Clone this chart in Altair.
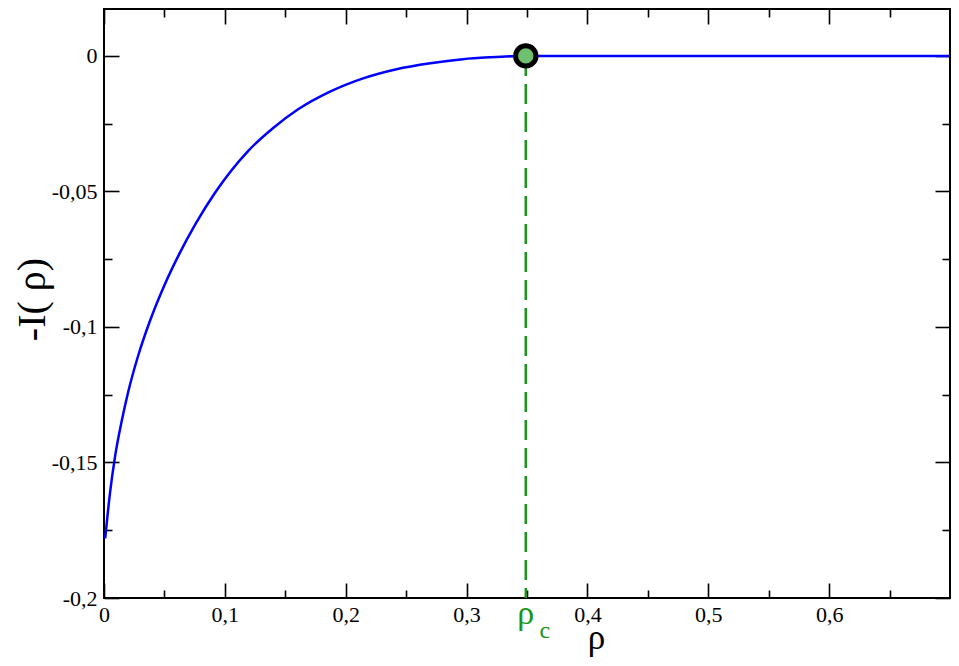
import altair as alt
import pandas as pd

# curve -I(rho)
rho = [0.001, 0.005, 0.009, 0.015, 0.020, 0.028, 0.038, 0.050, 0.062, 0.076,
       0.092, 0.119, 0.140, 0.160, 0.187, 0.215, 0.242, 0.270, 0.297, 0.320,
       0.339, 0.349, 0.70]
minus_I = [-0.178, -0.1611, -0.1482, -0.1340, -0.1240, -0.1110, -0.0978,
           -0.0846, -0.0733, -0.0618, -0.0504, -0.0352, -0.0266, -0.0199,
           -0.0132, -0.0082, -0.0049, -0.0027, -0.0012, -0.0005, -0.0001,
           0.0, 0.0]

rho_c = [0.349]
rho_c_value = [0.0]
y_bottom = [-0.2]

x_major = [0, 0.1, 0.2, 0.3, 0.4, 0.5, 0.6]
x_minor = [0.05, 0.15, 0.25, 0.35, 0.45, 0.55, 0.65]
y_major = [-0.2, -0.15, -0.1, -0.05, 0]
y_minor = [-0.175, -0.125, -0.075, -0.025]

curve = pd.DataFrame({"rho": rho, "I": minus_I})
crit = pd.DataFrame({"rho": rho_c, "I": rho_c_value, "low": y_bottom})

FONT = "Liberation Serif, Times New Roman, serif"
GREEN = "#1a961a"
xs = alt.Scale(domain=[0, 0.7], nice=False, zero=False)
ys = alt.Scale(domain=[-0.2, 0.0173], nice=False, zero=False)
label_expr = "replace(toString(datum.value), '.', ',')"


def tick_axis(orient, values, size):
    return alt.Axis(orient=orient, values=values, tickSize=size, offset=-size,
                    labels=False, domain=False, grid=False, ticks=True,
                    tickColor="black", tickWidth=1.6, title=None)


base = alt.Chart(curve)

line = base.mark_line(color="#0000ff", strokeWidth=2.5, interpolate="monotone").encode(
    x=alt.X("rho:Q", scale=xs,
            axis=alt.Axis(orient="bottom", values=x_major, labelExpr=label_expr,
                          ticks=False, tickSize=0, domain=False, grid=False,
                          labelFont=FONT, labelFontSize=22, labelColor="black",
                          labelPadding=6, labelFlush=False, labelOverlap=False,
                          title="ρ", titleFont=FONT, titleFontSize=35,
                          titleFontWeight="normal", titleColor="black",
                          titleX=492, titleY=50, titleAlign="center",
                          titleBaseline="alphabetic", titleAngle=0)),
    y=alt.Y("I:Q", scale=ys,
            axis=alt.Axis(orient="left", values=y_major, labelExpr=label_expr,
                          ticks=False, tickSize=0, domain=False, grid=False,
                          labelFont=FONT, labelFontSize=22, labelColor="black",
                          labelPadding=7, labelFlush=False, labelOverlap=False,
                          title="-I( ρ)", titleFont=FONT, titleFontSize=40,
                          titleFontWeight="normal", titleColor="black",
                          titleX=-60, titleY=290, titleAlign="center",
                          titleBaseline="alphabetic", titleAngle=270)),
)


def holder(xaxis, yaxis):
    return base.mark_line(strokeOpacity=0).encode(
        x=alt.X("rho:Q", scale=xs, axis=xaxis),
        y=alt.Y("I:Q", scale=ys, axis=yaxis),
    )


h1 = holder(tick_axis("bottom", x_major, 15), tick_axis("left", y_major, 15))
h2 = holder(tick_axis("bottom", x_minor, 8), tick_axis("left", y_minor, 8))
h3 = holder(tick_axis("top", x_major, 15), tick_axis("right", y_major, 15))
h4 = holder(tick_axis("top", x_minor, 8), tick_axis("right", y_minor, 8))

cbase = alt.Chart(crit)
dash = cbase.mark_rule(color=GREEN, strokeWidth=2.5, strokeDash=[20, 8]).encode(
    x=alt.X("rho:Q", scale=xs, axis=None),
    y=alt.Y("I:Q", scale=ys, axis=None),
    y2="low:Q",
)
point = cbase.mark_point(shape="circle", filled=False, size=415, fill="#6fc06f",
                         fillOpacity=1, stroke="black", strokeWidth=5, opacity=1).encode(
    x=alt.X("rho:Q", scale=xs, axis=None),
    y=alt.Y("I:Q", scale=ys, axis=None),
)
lab_rho = cbase.mark_text(text="ρ", font=FONT, fontSize=34, color=GREEN,
                          align="center", baseline="alphabetic", dx=0, dy=26).encode(
    x=alt.X("rho:Q", scale=xs, axis=None),
    y=alt.Y("low:Q", scale=ys, axis=None),
)
lab_c = cbase.mark_text(text="c", font=FONT, fontSize=24, color=GREEN,
                        align="center", baseline="alphabetic", dx=19, dy=40).encode(
    x=alt.X("rho:Q", scale=xs, axis=None),
    y=alt.Y("low:Q", scale=ys, axis=None),
)

chart = alt.layer(h1, h2, h3, h4, dash, line, point, lab_rho, lab_c).resolve_axis(
    x="independent", y="independent"
).properties(
    width=846, height=589,
    autosize=alt.AutoSizeParams(type="none"),
    padding={"left": 96, "top": 1, "right": 1, "bottom": 60},
    background="white",
).configure_view(stroke="black", strokeWidth=2)

chart.save("out.html", embed_options={"renderer": "svg", "actions": False})
